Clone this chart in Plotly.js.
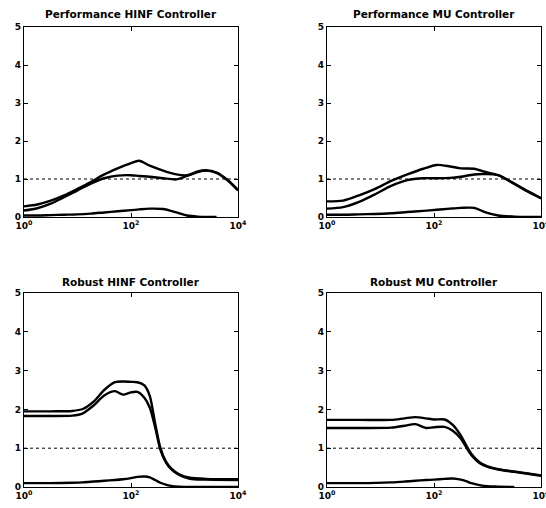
<!DOCTYPE html>
<html><head><meta charset="utf-8">
<script src="https://cdn.plot.ly/plotly-3.0.1.min.js"></script>
<style>html,body{margin:0;padding:0;background:#fff;}#chart{width:546px;height:508px;}</style>
</head><body><div id="chart"></div>
<script>
// ---- Data (frequency on log axis, magnitude) ----
const titles = ["Performance HINF Controller", "Performance MU Controller", "Robust HINF Controller", "Robust MU Controller"];
const xTickVals = [1, 100, 10000];
const xTickText = ["10<sup>0</sup>", "10<sup>2</sup>", "10<sup>4</sup>"];
const yTickVals = [0, 1, 2, 3, 4, 5];

// Performance HINF
const phFreq  = [1, 1.778, 3.162, 5.623, 10, 17.78, 31.62, 56.23, 100, 141.3, 223.9, 398.1, 707.9, 1122, 1778, 2512, 3981, 6310, 10000];
const phUpper = [0.28,0.33,0.43,0.57,0.74,0.92,1.12,1.28,1.42,1.48,1.35,1.22,1.12,1.10,1.20,1.23,1.17,0.98,0.71];
const phMid   = [0.17,0.23,0.35,0.52,0.70,0.88,1.02,1.09,1.10,1.08,1.06,1.02,0.99,1.08,1.18,1.22,1.16,0.97,0.70];
const phLower = [0.04,0.04,0.05,0.06,0.07,0.09,0.12,0.15,0.18,0.20,0.22,0.21,0.12,0.04,0.01,0.00,0.00,null,null];

// Performance MU
const pmFreq  = [1, 1.995, 3.981, 7.943, 15.85, 31.62, 63.10, 112.2, 199.5, 316.2, 562.3, 891.3, 1585, 3162, 5623, 10000];
const pmUpper = [0.41,0.43,0.57,0.74,0.95,1.12,1.27,1.37,1.33,1.28,1.27,1.19,1.10,0.88,0.68,0.50];
const pmMid   = [0.22,0.26,0.40,0.60,0.82,0.97,1.02,1.02,1.03,1.06,1.12,1.13,1.10,0.87,0.67,0.49];
const pmLower = [0.06,0.06,0.07,0.08,0.10,0.13,0.16,0.19,0.22,0.24,0.24,0.13,0.04,0.01,0.00,0.00];

// Robust HINF
const rhFreq  = [1, 3.162, 7.943, 12.59, 19.95, 31.62, 50.12, 70.79, 100, 131.8, 177.8, 223.9, 281.8, 354.8, 446.7, 562.3, 794.3, 1259, 2512, 10000];
const rhUpper = [1.95,1.95,1.96,2.01,2.20,2.50,2.70,2.72,2.71,2.70,2.62,2.35,1.65,1.00,0.66,0.48,0.33,0.24,0.21,0.20];
const rhMid   = [1.83,1.83,1.84,1.90,2.10,2.36,2.47,2.38,2.44,2.45,2.30,2.05,1.55,0.96,0.64,0.46,0.31,0.21,0.19,0.18];
const rhLower = [0.10,0.10,0.11,0.12,0.14,0.16,0.18,0.20,0.23,0.26,0.27,0.25,0.18,0.11,0.06,0.03,0.01,0.00,0.00,0.00];

// Robust MU
const rmFreq  = [1, 3.981, 15.85, 28.18, 44.67, 70.79, 100, 158.5, 223.9, 316.2, 398.1, 501.2, 707.9, 1000, 1585, 3162, 5623, 10000];
const rmUpper = [1.73,1.73,1.73,1.77,1.80,1.77,1.74,1.74,1.60,1.33,1.08,0.85,0.64,0.53,0.46,0.40,0.35,0.30];
const rmMid   = [1.52,1.52,1.53,1.58,1.62,1.52,1.54,1.55,1.45,1.25,1.03,0.82,0.62,0.52,0.45,0.39,0.34,0.29];
const rmLower = [0.10,0.10,0.12,0.14,0.16,0.18,0.19,0.21,0.22,0.19,0.15,0.10,0.05,0.02,0.01,0.00,null,null];

const refFreq = [1, 10000];
const refLevel = [1, 1];

// ---- Build ----
const panels = [
  {f: phFreq, ys: [phUpper, phMid, phLower]},
  {f: pmFreq, ys: [pmUpper, pmMid, pmLower]},
  {f: rhFreq, ys: [rhUpper, rhMid, rhLower]},
  {f: rmFreq, ys: [rmUpper, rmMid, rmLower]}
];
const W = 546, H = 508;
const xDom = [[24/W, 238/W], [327/W, 541/W], [24/W, 238/W], [327/W, 541/W]];
const yDom = [[1-217/H, 1-27/H], [1-217/H, 1-27/H], [1-487/H, 1-293/H], [1-487/H, 1-293/H]];
const traces = [];
const layout = {
  width: W, height: H, margin: {l:0, r:0, t:0, b:0},
  paper_bgcolor: '#fff', plot_bgcolor: '#fff', showlegend: false,
  annotations: []
};
const tf = {family: 'DejaVu Sans, Arial, sans-serif', size: 9, color: '#000', weight: 'bold'};
panels.forEach((p, i) => {
  const n = i === 0 ? '' : String(i + 1);
  const xa = 'x' + n, ya = 'y' + n;
  traces.push({x: refFreq, y: refLevel, xaxis: xa, yaxis: ya, mode: 'lines',
    line: {color: '#000', width: 1, dash: 'dot'}, hoverinfo: 'skip'});
  p.ys.forEach(y => traces.push({x: p.f, y: y, xaxis: xa, yaxis: ya, mode: 'lines',
    line: {color: '#000', width: 2.4, shape: 'spline', smoothing: 0.8}, connectgaps: false}));
  layout['xaxis' + n] = {
    type: 'log', range: [0, 4], domain: xDom[i], anchor: ya,
    tickvals: xTickVals, ticktext: xTickText, ticks: 'inside', ticklen: 4, tickcolor: '#000',
    showline: true, linecolor: '#000', linewidth: 1.3, mirror: 'ticks',
    showgrid: false, zeroline: false, tickfont: tf, fixedrange: true,
    ticklabeloverflow: 'allow'
  };
  layout['yaxis' + n] = {
    range: [0, 5], domain: yDom[i], anchor: xa,
    tickvals: yTickVals, ticks: 'inside', ticklen: 4, tickcolor: '#000',
    showline: true, linecolor: '#000', linewidth: 1.3, mirror: 'ticks',
    showgrid: false, zeroline: false, tickfont: tf, fixedrange: true,
    ticklabeloverflow: 'allow'
  };
  layout.annotations.push({
    text: titles[i], xref: xa + ' domain', x: 0.5, xanchor: 'center',
    yref: 'paper', y: i < 2 ? 1 - 14/H : 1 - 282/H, yanchor: 'middle',
    showarrow: false, font: {family: 'DejaVu Sans, Arial, sans-serif', size: 10.5, color: '#000', weight: 'bold'}
  });
});
Plotly.newPlot('chart', traces, layout, {displayModeBar: false, staticPlot: true});
</script></body></html>
